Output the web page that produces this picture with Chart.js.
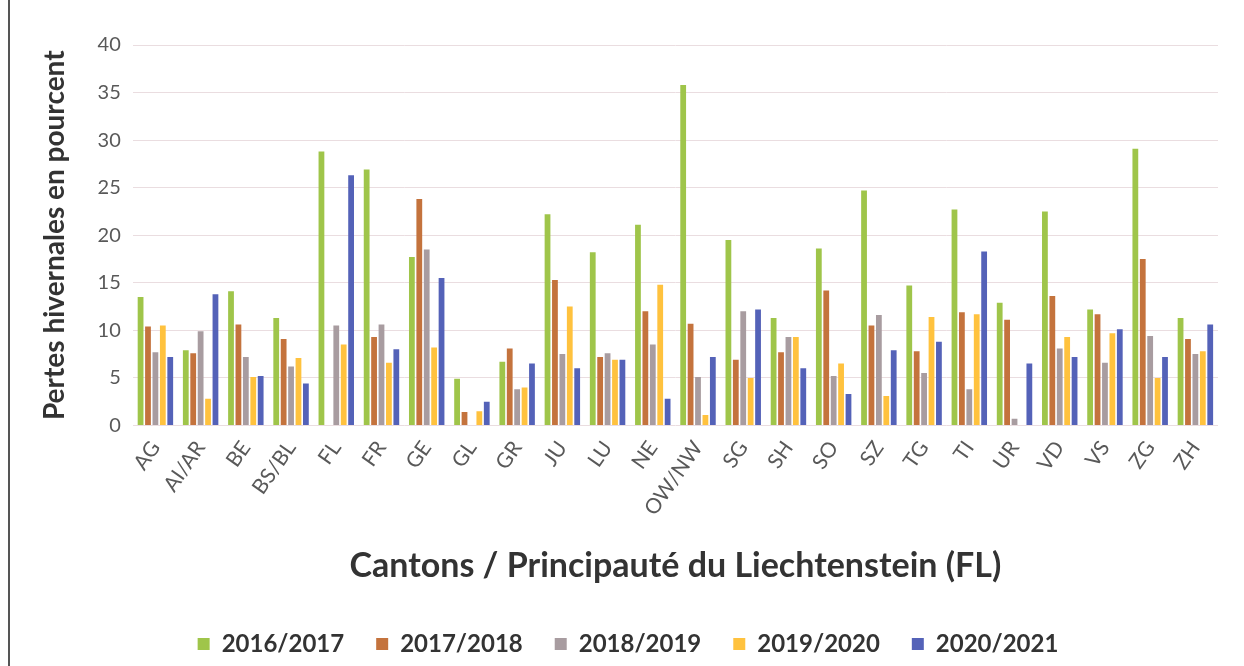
<!DOCTYPE html>
<html>
<head>
<meta charset="utf-8">
<script src="https://cdn.jsdelivr.net/npm/chart.js@4/dist/chart.umd.min.js"></script>
<style>
  html, body { margin: 0; padding: 0; background: #fff; }
  #wrap { position: relative; height: 666px; box-sizing: border-box; border-left: 2px solid #555; margin-left: 8px; width: 1236px; }
  canvas { display: block; }
</style>
</head>
<body>
<div id="wrap"><canvas id="chart" width="1234" height="666"></canvas></div>
<script>
const CANTONS = ["AG", "AI/AR", "BE", "BS/BL", "FL", "FR", "GE", "GL", "GR", "JU", "LU", "NE",
  "OW/NW", "SG", "SH", "SO", "SZ", "TG", "TI", "UR", "VD", "VS", "ZG", "ZH"];

const HIVER_2016_2017 = [13.5, 7.9, 14.1, 11.3, 28.8, 26.9, 17.7, 4.9, 6.7, 22.2, 18.2, 21.1,
  35.8, 19.5, 11.3, 18.6, 24.7, 14.7, 22.7, 12.9, 22.5, 12.2, 29.1, 11.3];
const HIVER_2017_2018 = [10.4, 7.6, 10.6, 9.1, 0, 9.3, 23.8, 1.4, 8.1, 15.3, 7.2, 12.0,
  10.7, 6.9, 7.7, 14.2, 10.5, 7.8, 11.9, 11.1, 13.6, 11.7, 17.5, 9.1];
const HIVER_2018_2019 = [7.7, 9.9, 7.2, 6.2, 10.5, 10.6, 18.5, 0, 3.8, 7.5, 7.6, 8.5,
  5.1, 12.0, 9.3, 5.2, 11.6, 5.5, 3.8, 0.7, 8.1, 6.6, 9.4, 7.5];
const HIVER_2019_2020 = [10.5, 2.8, 5.1, 7.1, 8.5, 6.6, 8.2, 1.5, 4.0, 12.5, 6.9, 14.8,
  1.1, 5.0, 9.3, 6.5, 3.1, 11.4, 11.7, 0, 9.3, 9.7, 5.0, 7.8];
const HIVER_2020_2021 = [7.2, 13.8, 5.2, 4.4, 26.3, 8.0, 15.5, 2.5, 6.5, 6.0, 6.9, 2.8,
  7.2, 12.2, 6.0, 3.3, 7.9, 8.8, 18.3, 6.5, 7.2, 10.1, 7.2, 10.6];

const SERIES = [
  { label: "2016/2017", data: HIVER_2016_2017, color: "#9fc54a" },
  { label: "2017/2018", data: HIVER_2017_2018, color: "#c4733d" },
  { label: "2018/2019", data: HIVER_2018_2019, color: "#a89ca0" },
  { label: "2019/2020", data: HIVER_2019_2020, color: "#ffc23e" },
  { label: "2020/2021", data: HIVER_2020_2021, color: "#5462b8" },
];

const POLICE = "Lato, 'Open Sans', sans-serif";

new Chart(document.getElementById("chart"), {
  type: "bar",
  data: {
    labels: CANTONS,
    datasets: SERIES.map(s => ({
      label: s.label,
      data: s.data,
      backgroundColor: s.color,
      borderWidth: 0,
      barPercentage: 0.78,
      categoryPercentage: 0.82,
    }))
  },
  options: {
    responsive: false,
    animation: false,
    layout: { padding: { left: 28, right: 26, top: 45, bottom: 0 } },
    plugins: {
      tooltip: { enabled: false },
      legend: {
        position: "bottom",
        labels: {
          boxWidth: 12, boxHeight: 12, padding: 32,
          color: "#333",
          font: { family: POLICE, size: 24, weight: "bold" }
        }
      }
    },
    scales: {
      x: {
        grid: { display: false },
        border: { display: false },
        ticks: {
          color: "#595959",
          maxRotation: 55, minRotation: 55,
          font: { family: POLICE, size: 21 }
        },
        title: {
          display: true,
          text: "Cantons / Principauté du Liechtenstein (FL)",
          color: "#333",
          padding: { top: 22, bottom: 14 },
          font: { family: POLICE, size: 34, weight: "bold" }
        }
      },
      y: {
        min: 0, max: 40,
        grid: { color: "#eadde0", drawTicks: false },
        border: { display: false },
        ticks: {
          stepSize: 5,
          padding: 12,
          color: "#595959",
          font: { family: POLICE, size: 20 }
        },
        title: {
          display: true,
          text: "Pertes hivernales en pourcent",
          color: "#333",
          padding: { top: 0, bottom: 14 },
          font: { family: POLICE, size: 28, weight: "bold" }
        }
      }
    }
  }
});
</script>
</body>
</html>
